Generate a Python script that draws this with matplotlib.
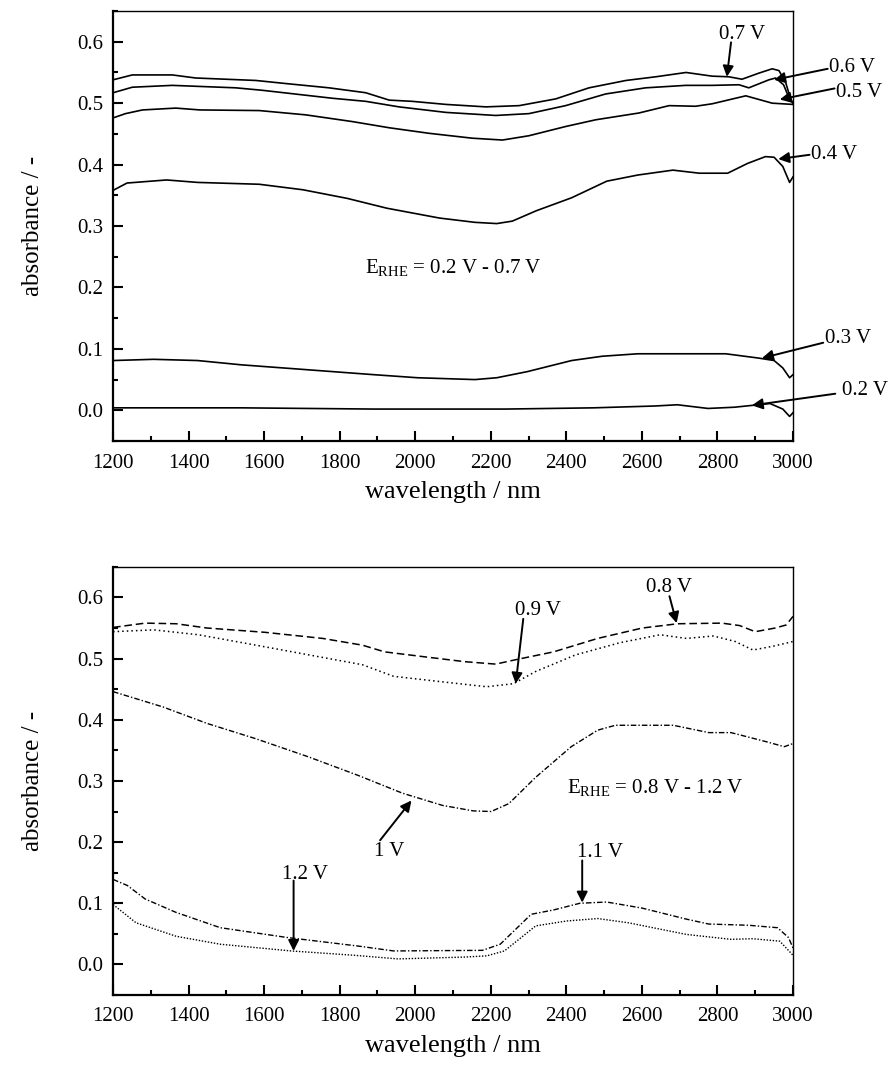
import matplotlib
matplotlib.use('Agg')
import matplotlib.pyplot as plt
from matplotlib.ticker import MultipleLocator

plt.rcParams['font.family'] = ['Liberation Serif', 'DejaVu Serif']
plt.rcParams['mathtext.fontset'] = 'custom'
plt.rcParams['mathtext.rm'] = 'Liberation Serif'

# ---- top panel: E_RHE = 0.2 V - 0.7 V ----
wl_07 = [1200, 1251, 1357, 1419, 1578, 1657, 1772, 1869, 1931, 1992, 2081, 2187, 2275,
         2372, 2460, 2558, 2637, 2717, 2786, 2830, 2865, 2910, 2945, 2963, 2981, 2994, 3000]
ab_07 = [0.538, 0.546, 0.546, 0.541, 0.537, 0.532, 0.525, 0.517, 0.505, 0.503, 0.498, 0.494, 0.496,
         0.507, 0.525, 0.537, 0.543, 0.550, 0.544, 0.543, 0.539, 0.549, 0.556, 0.553, 0.533, 0.506, 0.500]

wl_06 = [1200, 1251, 1357, 1525, 1595, 1781, 1869, 1957, 2081, 2213, 2301, 2398, 2504,
         2610, 2716, 2786, 2857, 2883, 2936, 2954, 2975, 2990, 3000]
ab_06 = [0.517, 0.526, 0.529, 0.525, 0.521, 0.508, 0.503, 0.494, 0.485, 0.480, 0.483, 0.496, 0.515,
         0.525, 0.529, 0.529, 0.530, 0.525, 0.538, 0.541, 0.530, 0.508, 0.500]

wl_05 = [1200, 1233, 1278, 1366, 1430, 1587, 1710, 1834, 1931, 2036, 2151, 2231, 2301,
         2398, 2478, 2592, 2672, 2742, 2786, 2875, 2910, 2945, 3000]
ab_05 = [0.476, 0.483, 0.489, 0.492, 0.489, 0.488, 0.481, 0.470, 0.460, 0.451, 0.443, 0.440, 0.447,
         0.462, 0.473, 0.484, 0.496, 0.495, 0.499, 0.512, 0.506, 0.500, 0.498]

wl_04 = [1200, 1237, 1342, 1424, 1587, 1703, 1820, 1925, 2064, 2158, 2216, 2257, 2321,
         2414, 2507, 2589, 2682, 2752, 2827, 2880, 2927, 2950, 2973, 2991, 3000]
ab_04 = [0.358, 0.370, 0.375, 0.371, 0.368, 0.359, 0.345, 0.329, 0.313, 0.306, 0.304, 0.308, 0.325,
         0.346, 0.373, 0.383, 0.391, 0.386, 0.386, 0.402, 0.413, 0.412, 0.397, 0.371, 0.380]

wl_03 = [1200, 1307, 1424, 1540, 1715, 1890, 2006, 2158, 2216, 2297, 2414, 2495, 2589,
         2705, 2822, 2909, 2950, 2973, 2991, 3000]
ab_03 = [0.081, 0.083, 0.081, 0.074, 0.066, 0.058, 0.053, 0.050, 0.053, 0.063, 0.081, 0.088, 0.092,
         0.092, 0.092, 0.085, 0.081, 0.069, 0.053, 0.058]

wl_02 = [1200, 1540, 1890, 2239, 2472, 2635, 2694, 2775, 2845, 2892, 2939, 2973, 2991, 3000]
ab_02 = [0.004, 0.004, 0.002, 0.002, 0.004, 0.007, 0.009, 0.003, 0.005, 0.008, 0.011, 0.002, -0.010, -0.004]

# ---- bottom panel: E_RHE = 0.8 V - 1.2 V ----
wl_08 = [1200, 1285, 1367, 1449, 1602, 1755, 1860, 1919, 2037, 2131, 2213, 2272, 2366,
         2483, 2601, 2695, 2812, 2859, 2900, 2953, 2982, 3000]
ab_08 = [0.551, 0.558, 0.557, 0.550, 0.543, 0.533, 0.522, 0.511, 0.502, 0.495, 0.491, 0.499, 0.511,
         0.533, 0.550, 0.557, 0.558, 0.554, 0.544, 0.550, 0.555, 0.569]

wl_09 = [1200, 1308, 1426, 1578, 1719, 1860, 1943, 2072, 2189, 2260, 2319, 2424, 2542,
         2648, 2718, 2789, 2847, 2894, 2953, 3000]
ab_09 = [0.544, 0.547, 0.539, 0.522, 0.506, 0.490, 0.471, 0.462, 0.454, 0.459, 0.479, 0.506, 0.526,
         0.539, 0.533, 0.537, 0.528, 0.514, 0.521, 0.528]

wl_10 = [1200, 1332, 1449, 1578, 1719, 1849, 1966, 2072, 2154, 2201, 2248, 2319, 2413,
         2483, 2530, 2683, 2777, 2836, 2930, 2977, 3000]
ab_10 = [0.446, 0.421, 0.394, 0.369, 0.339, 0.309, 0.280, 0.260, 0.251, 0.250, 0.263, 0.306, 0.356,
         0.383, 0.391, 0.391, 0.379, 0.379, 0.364, 0.356, 0.361]

wl_11 = [1200, 1238, 1285, 1367, 1484, 1661, 1849, 1943, 2178, 2225, 2307, 2366, 2436,
         2507, 2601, 2718, 2777, 2883, 2959, 2988, 3000]
ab_11 = [0.139, 0.129, 0.107, 0.085, 0.060, 0.044, 0.030, 0.022, 0.023, 0.033, 0.082, 0.089, 0.100,
         0.102, 0.092, 0.074, 0.066, 0.064, 0.060, 0.044, 0.027]

wl_12 = [1200, 1261, 1367, 1484, 1672, 1837, 1954, 2131, 2189, 2236, 2319, 2401, 2483,
         2565, 2718, 2836, 2894, 2965, 3000]
ab_12 = [0.098, 0.068, 0.046, 0.033, 0.022, 0.015, 0.009, 0.012, 0.014, 0.022, 0.063, 0.071, 0.075,
         0.068, 0.049, 0.041, 0.042, 0.038, 0.015]

x_ticks = [1200, 1400, 1600, 1800, 2000, 2200, 2400, 2600, 2800, 3000]
y_ticks = [0.0, 0.1, 0.2, 0.3, 0.4, 0.5, 0.6]

fig = plt.figure(figsize=(8.9, 10.73), dpi=100)
ax1 = fig.add_axes([0.127, 0.589, 0.764, 0.4007])
ax2 = fig.add_axes([0.127, 0.0727, 0.764, 0.399])


def style_axes(ax):
    ax.set_xlim(1200, 3000)
    ax.set_ylim(-0.05, 0.65)
    ax.set_xticks(x_ticks)
    ax.set_yticks(y_ticks)
    ax.set_yticklabels([f"{v:.1f}" for v in y_ticks])
    ax.xaxis.set_minor_locator(MultipleLocator(100))
    ax.yaxis.set_minor_locator(MultipleLocator(0.05))
    ax.tick_params(which='both', direction='in', top=False, right=False, width=1.5, labelsize=15)
    ax.tick_params(which='major', length=7)
    ax.tick_params(which='minor', length=3.5)
    ax.tick_params(axis='x', pad=9)
    ax.tick_params(axis='y', pad=7)
    ax.spines['left'].set_linewidth(1.6)
    ax.spines['bottom'].set_linewidth(1.6)
    ax.spines['top'].set_linewidth(1.0)
    ax.spines['right'].set_linewidth(1.0)
    ax.set_xlabel('wavelength / nm', fontsize=19, labelpad=6)
    ax.set_ylabel('absorbance / -', fontsize=18, labelpad=24)


arrow = dict(arrowstyle='-|>', color='k', lw=1.4, mutation_scale=16, shrinkA=0, shrinkB=0)


def label(ax, text, txt_xy, tail, tip, ha='center'):
    # label text plus an arrow running from tail to tip
    ax.text(txt_xy[0], txt_xy[1], text, fontsize=15, ha=ha, va='center', clip_on=False)
    ax.annotate('', xy=tip, xytext=tail, arrowprops=arrow, annotation_clip=False)


# top panel curves
for wl, ab in [(wl_07, ab_07), (wl_06, ab_06), (wl_05, ab_05), (wl_04, ab_04), (wl_03, ab_03), (wl_02, ab_02)]:
    ax1.plot(wl, ab, color='k', lw=1.2, clip_on=False)

style_axes(ax1)
label(ax1, '0.7 V', (2865, 0.612), (2836, 0.599), (2825, 0.543))
label(ax1, '0.6 V', (3095, 0.558), (3092, 0.556), (2950, 0.538), ha='left')
label(ax1, '0.5 V', (3114, 0.518), (3110, 0.524), (2965, 0.506), ha='left')
label(ax1, '0.4 V', (3048, 0.417), (3044, 0.416), (2961, 0.409), ha='left')
label(ax1, '0.3 V', (3085, 0.117), (3080, 0.110), (2918, 0.085), ha='left')
label(ax1, '0.2 V', (3130, 0.033), (3112, 0.027), (2891, 0.008), ha='left')
ax1.text(2100, 0.232, r'$\mathregular{E_{RHE}}$ = 0.2 V - 0.7 V', fontsize=15, ha='center', va='center')

# bottom panel curves
ax2.plot(wl_08, ab_08, color='k', lw=1.1, linestyle=(0, (5, 2.5)))
ax2.plot(wl_09, ab_09, color='k', lw=1.1, linestyle=(0, (1, 2)))
ax2.plot(wl_10, ab_10, color='k', lw=1.0, linestyle=(0, (4, 1.5, 1, 1.5)))
ax2.plot(wl_11, ab_11, color='k', lw=1.0, linestyle=(0, (4, 1.5, 1, 1.5)))
ax2.plot(wl_12, ab_12, color='k', lw=1.0, linestyle=(0, (1, 1.2)))

style_axes(ax2)
label(ax2, '0.8 V', (2671, 0.617), (2673, 0.602), (2692, 0.558))
label(ax2, '0.9 V', (2324, 0.579), (2286, 0.565), (2266, 0.459))
label(ax2, '1 V', (1931, 0.184), (1907, 0.203), (1990, 0.268))
label(ax2, '1.2 V', (1708, 0.147), (1678, 0.137), (1678, 0.022))
label(ax2, '1.1 V', (2489, 0.183), (2442, 0.170), (2442, 0.101))
ax2.text(2636, 0.290, r'$\mathregular{E_{RHE}}$ = 0.8 V - 1.2 V', fontsize=15, ha='center', va='center')

fig.savefig('out.png', dpi=100)
